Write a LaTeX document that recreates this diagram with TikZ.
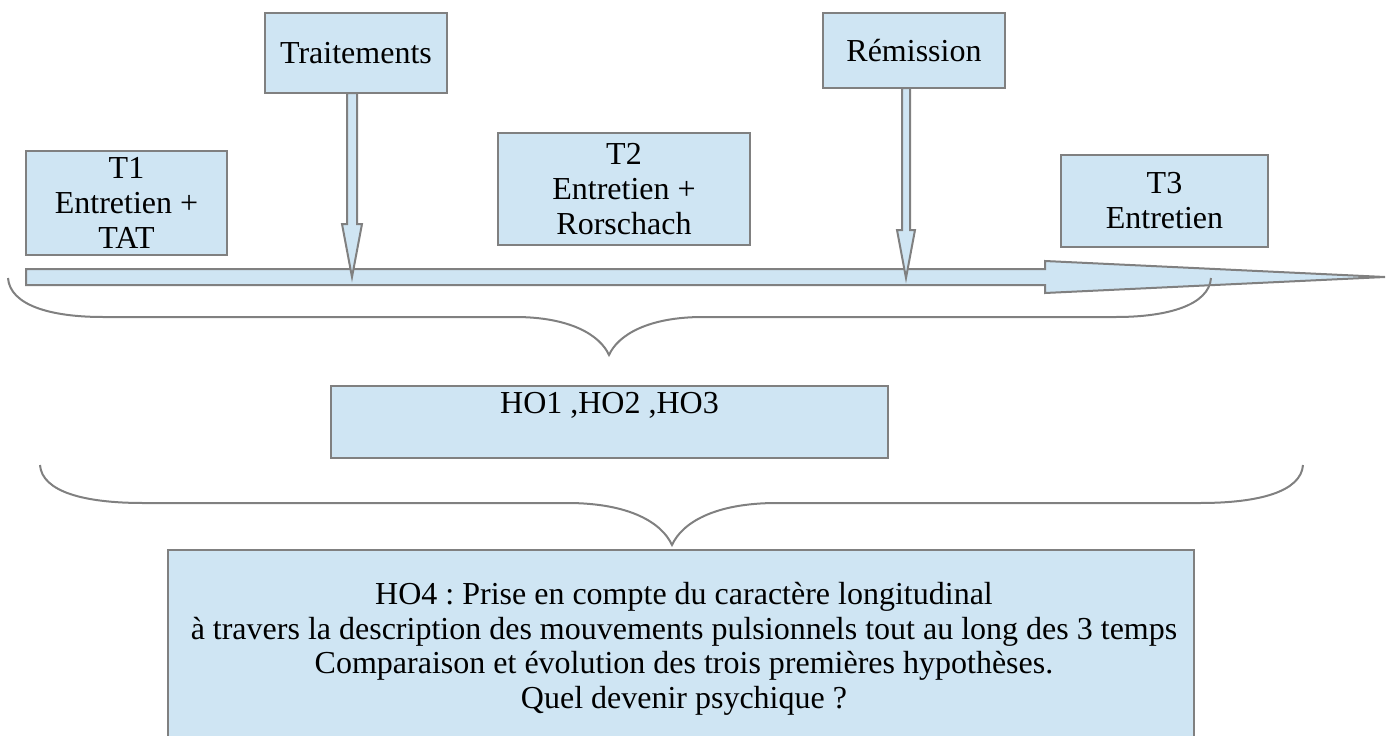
\documentclass[tikz,border=0pt]{standalone}
\usepackage{fontspec}
\setmainfont{Liberation Serif}
\usetikzlibrary{calc}
\frenchspacing
\definecolor{boxfill}{HTML}{CFE5F3}
\definecolor{boxline}{HTML}{808080}
\tikzset{
  box/.style={draw=boxline, fill=boxfill, line width=2pt, inner sep=0pt, align=center,
    font=\fontsize{32}{35}\selectfont},
  txt/.style={inner sep=0pt, align=center, font=\fontsize{32}{34.5}\selectfont},
  blk/.style={draw=boxline, fill=boxfill, line width=2pt, line join=miter},
  brace/.style={draw=boxline, line width=2pt}
}
\begin{document}
\begin{tikzpicture}[x=1pt, y=-1pt]
\useasboundingbox (0,0) rectangle (1390,736);
% timeline
\coordinate (tl0) at (26,277);
\coordinate (tlend) at (1385,277);
\draw[blk] ($(tl0)+(0,-8)$) -- (1045,269) -- (1045,261) -- (tlend) -- (1045,293) -- (1045,285) -- ($(tl0)+(0,8)$) -- cycle;
% top boxes
\node[box, minimum width=182pt, minimum height=80pt] (trt) at (356,53) {Traitements};
\node[box, minimum width=182pt, minimum height=75pt] (rem) at (914,50.5) {Rémission};
% down arrows
\coordinate (tipA) at (352,277);
\coordinate (tipB) at (906,278);
\draw[blk] (347,93) -- (347,224) -- (342,224) -- (tipA) -- (362,224) -- (357,224) -- (357,93) -- cycle;
\draw[blk] (902,88) -- (902,230) -- (897,230) -- (tipB) -- (915,230) -- (910,230) -- (910,88) -- cycle;
% T boxes
\node[box, minimum width=201pt, minimum height=104pt] (t1) at (126.5,203) {T1\\Entretien +\\TAT};
\node[box, minimum width=252pt, minimum height=112pt] (t2) at (624,189) {T2\\Entretien +\\Rorschach};
\node[box, minimum width=207pt, minimum height=92pt] (t3) at (1164.5,201) {T3\\Entretien};
% brace 1
\coordinate (b1l) at (8,278);
\coordinate (b1r) at (1211,278);
\coordinate (b1t) at (609,355);
\draw[brace] (b1l) .. controls (10,305) and (50,317) .. (103,317) -- (515,317)
  .. controls (570,317) and (600,335) .. (b1t)
  .. controls (618,335) and (648,317) .. (703,317) -- (1116,317)
  .. controls (1168,317) and (1209,305) .. (b1r);
% HO1 box
\node[box, minimum width=557pt, minimum height=72pt] (ho1) at (609.5,422) {};
\node[txt] (ho1t) at (609.5,405) {HO1 ,HO2 ,HO3};
% brace 2
\coordinate (b2l) at (40,465);
\coordinate (b2r) at (1303,465);
\coordinate (b2t) at (672,545);
\draw[brace] (b2l) .. controls (42,492) and (85,503) .. (143,503) -- (567,503)
  .. controls (630,503) and (662,523) .. (b2t)
  .. controls (682,523) and (714,503) .. (777,503) -- (1200,503)
  .. controls (1258,503) and (1301,492) .. (b2r);
% HO4 box
\node[box, minimum width=1026pt, minimum height=190pt] (ho4) at (681,645) {};
\node[txt] (ho4t) at (684,649) {HO4 : Prise en compte du caractère longitudinal\\
 à travers la description des mouvements pulsionnels tout au long des 3 temps\\
 Comparaison et évolution des trois premières hypothèses.\\
 Quel devenir psychique ?};
\end{tikzpicture}
\end{document}
